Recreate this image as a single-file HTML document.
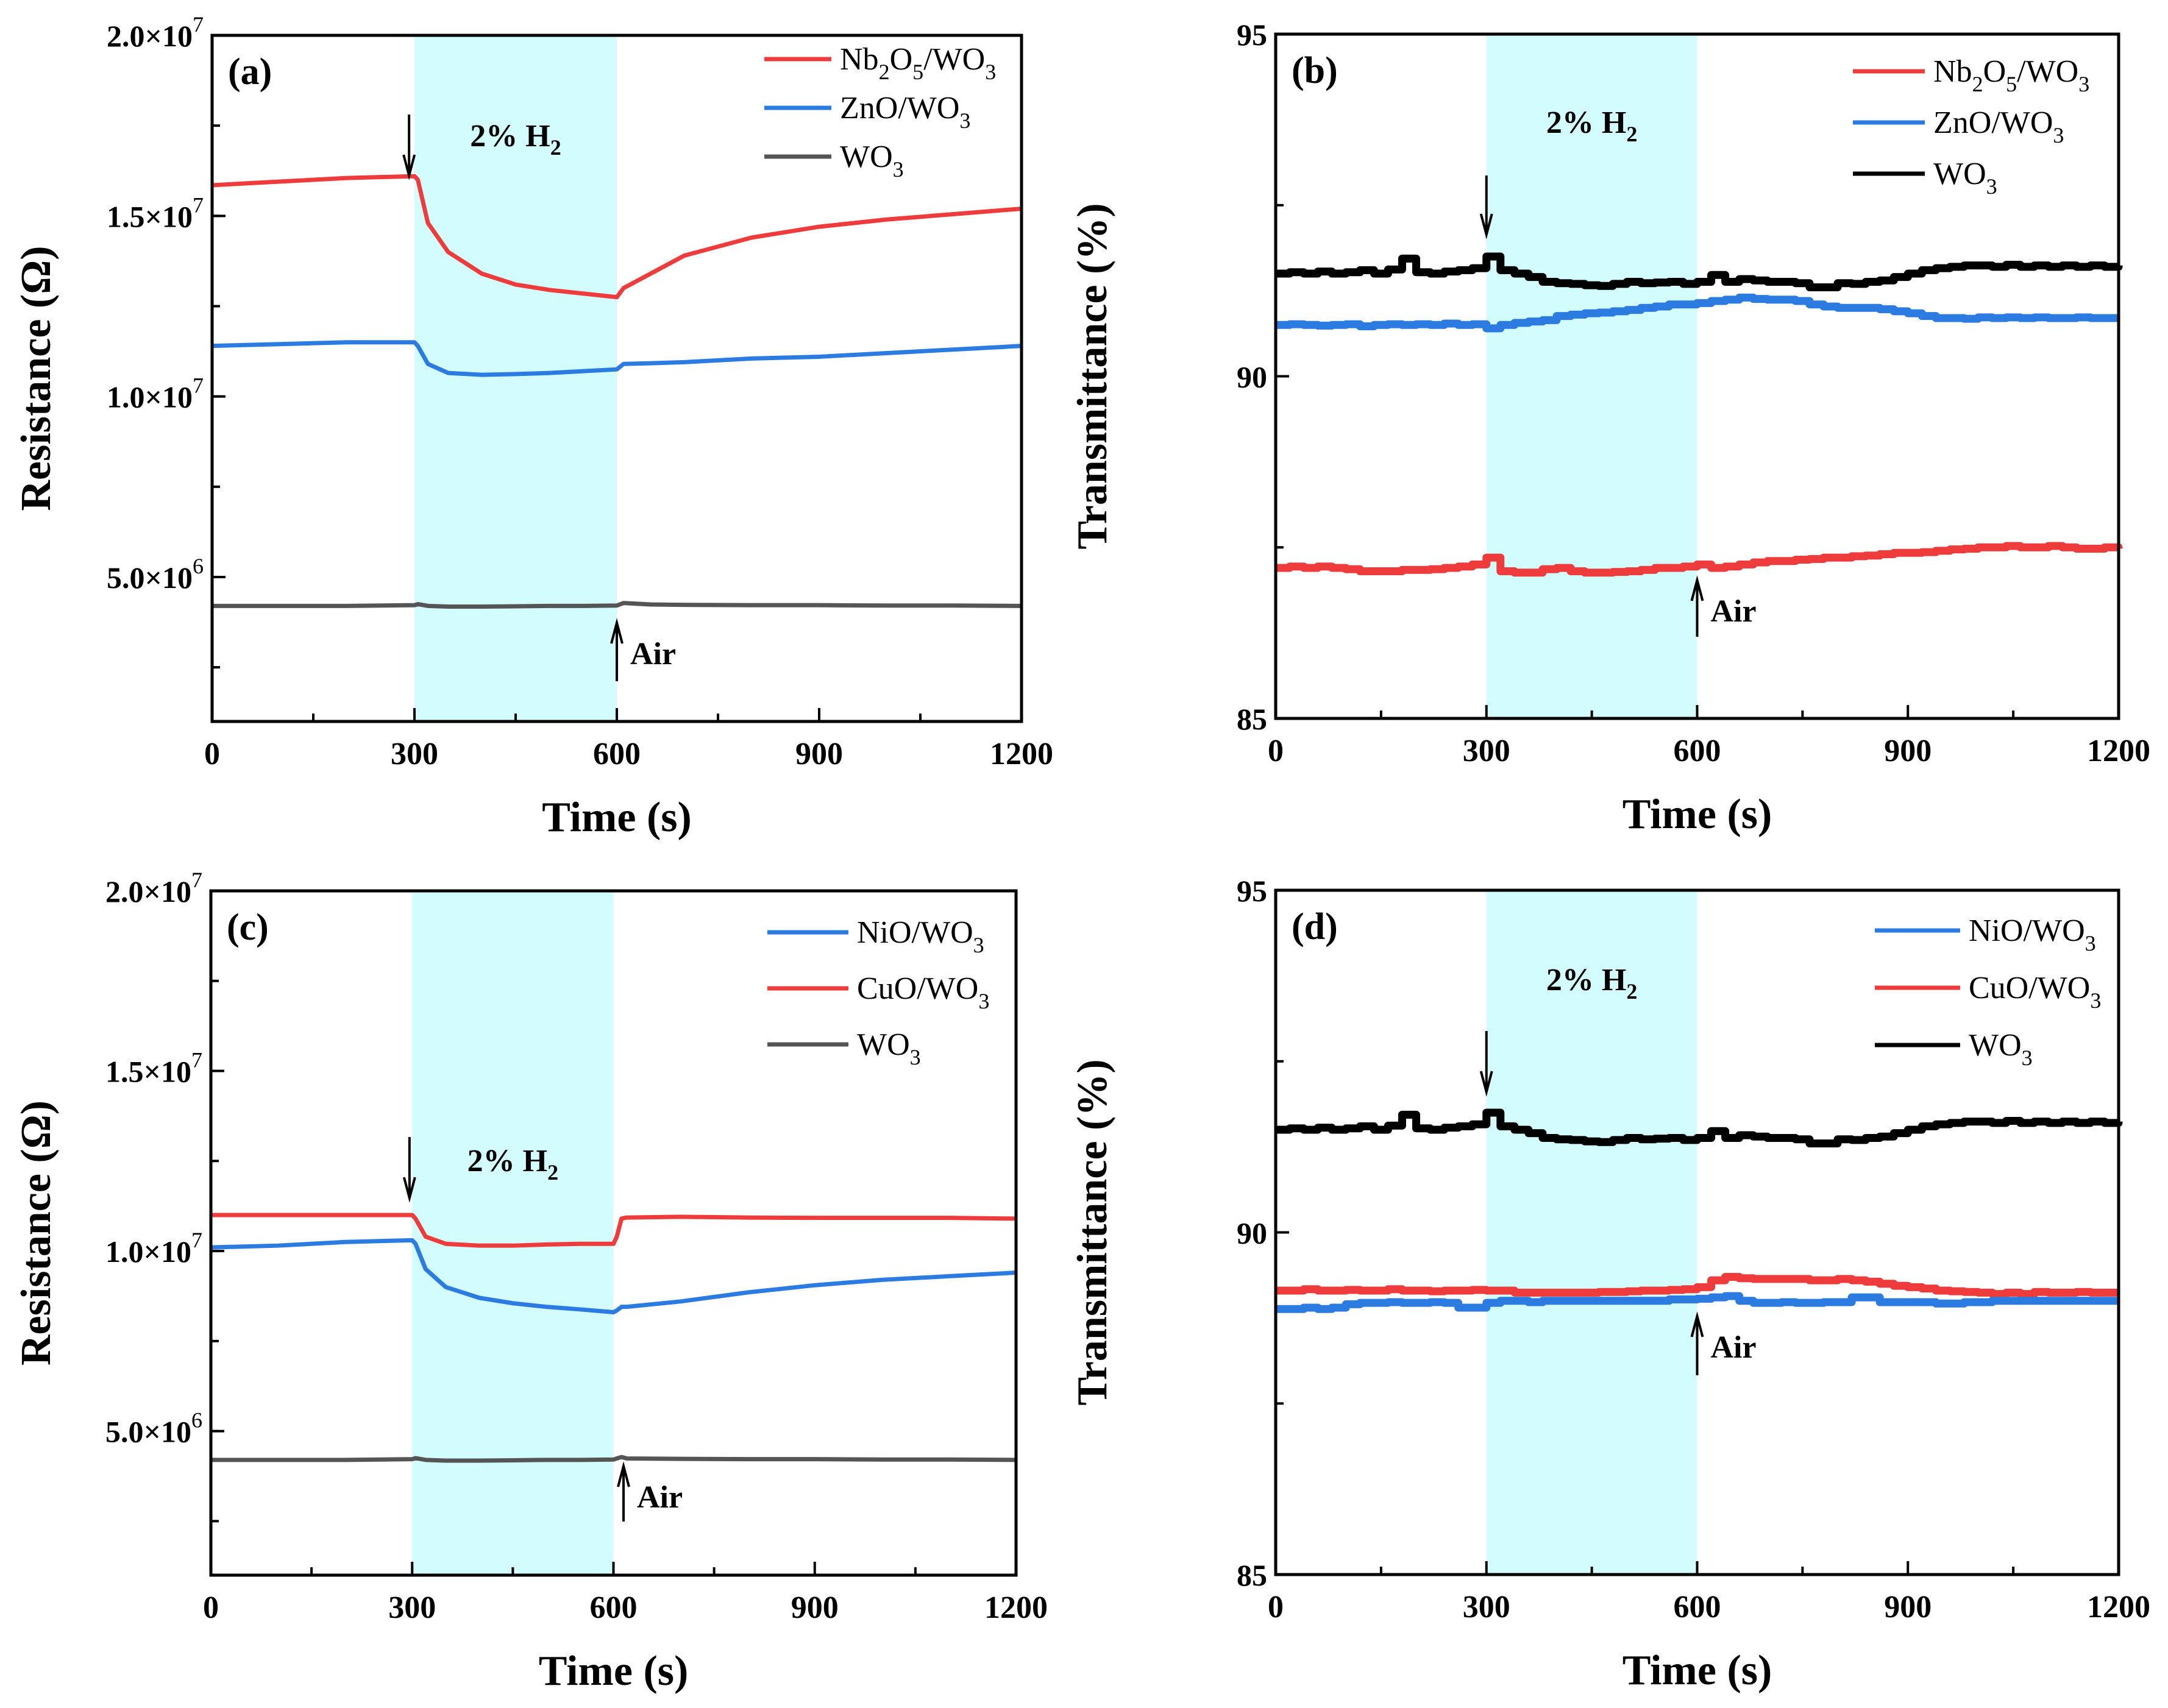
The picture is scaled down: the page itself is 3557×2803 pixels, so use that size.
<!DOCTYPE html>
<html><head><meta charset="utf-8"><style>
html,body{margin:0;padding:0;background:#fff;}
svg{display:block;font-family:"Liberation Serif",serif;}
</style></head>
<body>
<svg id="fig" width="3557" height="2803" viewBox="0 0 3557 2803" xmlns="http://www.w3.org/2000/svg"></svg>
<script>
// ---------- data ----------
const timeTicks = [0, 300, 600, 900, 1200];
const resTicks = [5e6, 1e7, 1.5e7, 2e7];
const resTickLabels = ["5.0×10|6", "1.0×10|7", "1.5×10|7", "2.0×10|7"];
const transTicks = [85, 90, 95];
const transTickLabels = ["85", "90", "95"];

const aTime = [0, 100, 200, 300, 305, 320, 350, 400, 450, 500, 550, 600, 610, 650, 700, 800, 900, 1000, 1100, 1200];
const aNb = [1.585e7, 1.595e7, 1.605e7, 1.61e7, 1.6e7, 1.48e7, 1.4e7, 1.34e7, 1.31e7, 1.295e7, 1.285e7, 1.275e7, 1.3e7, 1.34e7, 1.39e7, 1.44e7, 1.47e7, 1.49e7, 1.505e7, 1.52e7];
const aZn = [1.14e7, 1.145e7, 1.15e7, 1.15e7, 1.14e7, 1.09e7, 1.065e7, 1.06e7, 1.062e7, 1.065e7, 1.07e7, 1.075e7, 1.09e7, 1.092e7, 1.095e7, 1.105e7, 1.11e7, 1.12e7, 1.13e7, 1.14e7];
const aWO = [4.2e6, 4.2e6, 4.2e6, 4.22e6, 4.25e6, 4.2e6, 4.18e6, 4.18e6, 4.19e6, 4.2e6, 4.2e6, 4.21e6, 4.28e6, 4.24e6, 4.23e6, 4.22e6, 4.22e6, 4.21e6, 4.21e6, 4.2e6];

const cTime = [0, 100, 200, 300, 305, 320, 350, 400, 450, 500, 550, 600, 605, 612, 620, 700, 800, 900, 1000, 1100, 1200];
const cNi = [1.01e7, 1.015e7, 1.025e7, 1.03e7, 1.02e7, 0.95e7, 0.9e7, 0.87e7, 0.855e7, 0.845e7, 0.838e7, 0.83e7, 0.835e7, 0.845e7, 0.845e7, 0.86e7, 0.885e7, 0.905e7, 0.92e7, 0.93e7, 0.94e7];
const cCu = [1.1e7, 1.1e7, 1.1e7, 1.1e7, 1.09e7, 1.04e7, 1.02e7, 1.015e7, 1.015e7, 1.018e7, 1.02e7, 1.02e7, 1.04e7, 1.09e7, 1.093e7, 1.095e7, 1.093e7, 1.092e7, 1.092e7, 1.092e7, 1.09e7];
const cWO = [4.2e6, 4.2e6, 4.2e6, 4.22e6, 4.25e6, 4.2e6, 4.18e6, 4.18e6, 4.19e6, 4.2e6, 4.2e6, 4.21e6, 4.24e6, 4.28e6, 4.24e6, 4.23e6, 4.22e6, 4.22e6, 4.21e6, 4.21e6, 4.2e6];

const tTime = [0,20,40,60,80,100,120,140,160,180,200,220,240,260,280,300,320,340,360,380,400,420,440,460,480,500,520,540,560,580,600,620,640,660,680,700,720,740,760,780,800,820,840,860,880,900,920,940,960,980,1000,1020,1040,1060,1080,1100,1120,1140,1160,1180,1200];
const tWO = [91.5,91.52,91.5,91.53,91.5,91.52,91.55,91.5,91.56,91.72,91.52,91.5,91.53,91.55,91.58,91.75,91.55,91.5,91.45,91.38,91.36,91.35,91.33,91.32,91.35,91.38,91.36,91.37,91.38,91.35,91.38,91.48,91.38,91.42,91.4,91.38,91.38,91.36,91.3,91.3,91.36,91.35,91.38,91.4,91.45,91.5,91.55,91.58,91.6,91.62,91.62,91.6,91.63,91.6,91.62,91.6,91.62,91.6,91.62,91.6,91.62];
const bZn = [90.75,90.76,90.75,90.74,90.75,90.76,90.73,90.75,90.76,90.75,90.76,90.75,90.77,90.75,90.76,90.7,90.75,90.78,90.8,90.82,90.88,90.9,90.92,90.93,90.95,90.97,91.0,91.02,91.05,91.05,91.07,91.1,91.12,91.15,91.13,91.12,91.12,91.1,91.05,91.02,91.0,91.0,91.0,90.98,90.95,90.92,90.88,90.85,90.85,90.84,90.86,90.85,90.86,90.85,90.86,90.85,90.85,90.86,90.85,90.85,90.85];
const bNb = [87.2,87.22,87.2,87.22,87.2,87.18,87.15,87.15,87.15,87.17,87.17,87.18,87.2,87.22,87.25,87.35,87.15,87.13,87.13,87.18,87.2,87.15,87.13,87.13,87.14,87.15,87.17,87.2,87.2,87.22,87.25,87.2,87.22,87.25,87.28,87.3,87.3,87.32,87.33,87.35,87.35,87.37,87.38,87.4,87.42,87.42,87.43,87.45,87.47,87.48,87.5,87.5,87.52,87.5,87.5,87.52,87.5,87.48,87.48,87.5,87.48];
const dCu = [89.15,89.15,89.17,89.15,89.15,89.16,89.15,89.15,89.17,89.15,89.15,89.14,89.15,89.15,89.16,89.15,89.15,89.12,89.12,89.12,89.12,89.12,89.12,89.13,89.13,89.14,89.15,89.15,89.16,89.17,89.2,89.3,89.35,89.33,89.32,89.32,89.32,89.32,89.3,89.3,89.32,89.3,89.28,89.25,89.22,89.2,89.18,89.15,89.14,89.13,89.12,89.1,89.12,89.1,89.13,89.12,89.12,89.13,89.12,89.12,89.12];
const dNi = [88.88,88.88,88.9,88.88,88.9,88.95,88.97,88.97,88.98,88.97,88.97,88.98,88.97,88.9,88.9,88.97,89.0,89.0,88.98,89.0,89.0,89.0,89.0,89.0,89.0,89.0,89.0,89.0,89.02,89.02,89.03,89.05,89.07,89.0,88.97,88.97,88.98,88.97,88.97,88.98,88.98,89.05,89.05,88.98,88.98,88.98,88.98,88.96,88.96,88.98,88.98,89.0,89.0,89.0,89.0,89.0,89.0,89.0,89.0,89.0,89.0];

// ---------- drawing ----------
const NS = "http://www.w3.org/2000/svg";
const svg = document.getElementById("fig");
function mk(tag, attrs, parent) {
  const e = document.createElementNS(NS, tag);
  for (const k in attrs) e.setAttribute(k, attrs[k]);
  (parent || svg).appendChild(e);
  return e;
}
const RED = "#ee3b3b", BLUE = "#2b7be0", GREY = "#555", BLACK = "#000";

function panel(p) {
  const g = mk("g", {});
  
  
  const xs = t => p.x0 + (t - 0) / 1200 * (p.x1 - p.x0);
  const ys = v => p.y1 - (v - p.ymin) / (p.ymax - p.ymin) * (p.y1 - p.y0);
  const band = mk("rect", {x: xs(300), y: p.y0, width: xs(600) - xs(300), height: p.y1 - p.y0, fill: "#d2fcfd"}, g);
  
  
  p.series.forEach(s => {
    let d = "";
    s.t.forEach((t, i) => {
      const X = xs(t), Y = ys(s.v[i]);
      if (i === 0) d += "M" + X + " " + Y;
      else if (s.step) d += " H" + X + " V" + Y;
      else d += " L" + X + " " + Y;
    });
    const path = mk("path", {d: d, fill: "none", stroke: s.color, "stroke-width": s.step ? 13 : 7, "stroke-linejoin": "round"}, g);
    
    
  });
  const fr = mk("rect", {x: p.x0, y: p.y0, width: p.x1 - p.x0, height: p.y1 - p.y0, fill: "none", stroke: "#000", "stroke-width": 5}, g);
  
  
  for (let t = 0; t <= 1200; t += 150) {
    const maj = t % 300 === 0;
    const tk = mk("line", {x1: xs(t), x2: xs(t), y1: p.y1, y2: p.y1 - (maj ? 22 : 13), stroke: "#000", "stroke-width": 4}, g);
    
    
  }
  timeTicks.forEach(t => {
    const tx = mk("text", {x: xs(t), y: p.y1 + 70, "font-size": 52, "font-weight": "bold", "text-anchor": "middle"}, g);
    tx.textContent = t;
    
    
  });
  const step = (p.ticks[1] - p.ticks[0]) / 2;
  const minorVals = [];
  for (let k = -4; k <= 10; k++) {
    const v = p.ticks[0] + k * step;
    if (v > p.ymin + 1e-9 * Math.abs(p.ymax) && v < p.ymax - 1e-9 * Math.abs(p.ymax)) minorVals.push(v);
  }
  minorVals.forEach(v => {
    const tk = mk("line", {x1: p.x0, x2: p.x0 + 13, y1: ys(v), y2: ys(v), stroke: "#000", "stroke-width": 4}, g);
    
    
  });
  p.ticks.forEach((v, i) => {
    const tk = mk("line", {x1: p.x0, x2: p.x0 + 22, y1: ys(v), y2: ys(v), stroke: "#000", "stroke-width": 4}, g);
    
    
    const parts = p.labels[i].split("|");
    const tx = mk("text", {x: p.x0 - 14, y: ys(v) + 18, "font-size": 50, "font-weight": "bold", "text-anchor": "end"}, g);
    
    
    if (parts.length > 1) {
      const a = mk("tspan", {}, tx); a.textContent = parts[0];
      const b = mk("tspan", {dy: -24, "font-size": 36, "font-weight": "normal"}, tx); b.textContent = parts[1];
    } else tx.textContent = parts[0];
  });
  const xt = mk("text", {x: (p.x0 + p.x1) / 2, y: p.y1 + 180, "font-size": 70, "font-weight": "bold", "text-anchor": "middle"}, g);
  xt.textContent = "Time (s)";
  
  
  const yt = mk("text", {x: 0, y: 0, "font-size": 70, "font-weight": "bold", "text-anchor": "middle", transform: "translate(" + p.ytx + "," + (p.y0 + p.y1) / 2 + ") rotate(-90)"}, g);
  yt.textContent = p.ytitle;
  
  
  const pl = mk("text", {x: p.x0 + 26, y: p.y0 + 80, "font-size": 62, "font-weight": "bold"}, g);
  pl.textContent = "(" + p.id + ")";
  
  
  const h = mk("text", {x: xs(450), y: p.h2y, "font-size": 52, "font-weight": "bold", "text-anchor": "middle"}, g);
  
  
  const h1 = mk("tspan", {}, h); h1.textContent = "2% H";
  const h2 = mk("tspan", {dy: 14, "font-size": 36}, h); h2.textContent = "2";
  function arrow(x, ya, yb, name) {
    const ln = mk("line", {x1: x, x2: x, y1: ya, y2: yb, stroke: "#000", "stroke-width": 4}, g);
    
    
    const dir = yb > ya ? 1 : -1;
    const hd = mk("path", {d: "M" + (x - 9) + " " + (yb - dir * 34) + " L" + x + " " + yb + " L" + (x + 9) + " " + (yb - dir * 34), fill: "none", stroke: "#000", "stroke-width": 4}, g);
    
    
  }
  arrow(xs(p.downX), p.down[0], p.down[1], 'h2-on-arrow');
  arrow(xs(p.airX), p.air[1], p.air[0], 'air-arrow');
  const at = mk("text", {x: xs(p.airX) + 22, y: p.air[0] + 68, "font-size": 52, "font-weight": "bold"}, g);
  at.textContent = "Air";
  
  
  p.series.slice().sort((a, b) => a.li - b.li).forEach((s, i) => {
    const y = p.leg.y + i * p.leg.dy;
    const ll = mk("line", {x1: p.leg.x0, x2: p.leg.x1, y1: y, y2: y, stroke: s.color, "stroke-width": 7}, g);
    
    
    const tx = mk("text", {x: p.leg.x1 + 14, y: y + 17, "font-size": 52}, g);
    
    
    let lowered = false;
    s.label.forEach(seg => {
      let dy = 0;
      if (seg[1] && !lowered) { dy = 16; lowered = true; }
      else if (!seg[1] && lowered) { dy = -16; lowered = false; }
      const sp = mk("tspan", {"font-size": seg[1] ? 36 : 52, dy: dy}, tx);
      sp.textContent = seg[0];
    });
  });
}

const lab = {
  nb: [["Nb"],["2",1],["O"],["5",1],["/WO"],["3",1]],
  zn: [["ZnO/WO"],["3",1]],
  wo: [["WO"],["3",1]],
  ni: [["NiO/WO"],["3",1]],
  cu: [["CuO/WO"],["3",1]]
};

panel({id: "a", x0: 348, x1: 1676, y0: 58, y1: 1184, ymin: 1e6, ymax: 2e7, ticks: resTicks, labels: resTickLabels,
  ytitle: "Resistance (Ω)", ytx: 82, h2y: 240, downX: 292, down: [188, 288], airX: 600, air: [1022, 1118],
  leg: {x0: 1254, x1: 1364, y: 97, dy: 80},
  series: [
    {name: "wo3", t: aTime, v: aWO, color: GREY, label: lab.wo, li: 2},
    {name: "zno-wo3", t: aTime, v: aZn, color: BLUE, label: lab.zn, li: 1},
    {name: "nb2o5-wo3", t: aTime, v: aNb, color: RED, label: lab.nb, li: 0}
  ]});
panel({id: "b", x0: 2093, x1: 3476, y0: 56, y1: 1179, ymin: 85, ymax: 95, ticks: transTicks, labels: transTickLabels,
  ytitle: "Transmittance (%)", ytx: 1815, h2y: 218, downX: 300, down: [288, 385], airX: 600, air: [952, 1045],
  leg: {x0: 3040, x1: 3158, y: 117, dy: 84},
  series: [
    {name: "nb2o5-wo3", t: tTime, v: bNb, color: RED, label: lab.nb, li: 0, step: 1},
    {name: "zno-wo3", t: tTime, v: bZn, color: BLUE, label: lab.zn, li: 1, step: 1},
    {name: "wo3", t: tTime, v: tWO, color: BLACK, label: lab.wo, li: 2, step: 1}
  ]});
panel({id: "c", x0: 346, x1: 1667, y0: 1462, y1: 2585, ymin: 1e6, ymax: 2e7, ticks: resTicks, labels: resTickLabels,
  ytitle: "Resistance (Ω)", ytx: 82, h2y: 1922, downX: 296, down: [1866, 1966], airX: 615, air: [2406, 2497],
  leg: {x0: 1259, x1: 1392, y: 1530, dy: 92},
  series: [
    {name: "wo3", t: cTime, v: cWO, color: GREY, label: lab.wo, li: 2},
    {name: "cuo-wo3", t: cTime, v: cCu, color: RED, label: lab.cu, li: 1},
    {name: "nio-wo3", t: cTime, v: cNi, color: BLUE, label: lab.ni, li: 0}
  ]});
panel({id: "d", x0: 2093, x1: 3476, y0: 1461, y1: 2584, ymin: 85, ymax: 95, ticks: transTicks, labels: transTickLabels,
  ytitle: "Transmittance (%)", ytx: 1815, h2y: 1625, downX: 300, down: [1692, 1792], airX: 600, air: [2160, 2257],
  leg: {x0: 3076, x1: 3216, y: 1527, dy: 94},
  series: [
    {name: "cuo-wo3", t: tTime, v: dCu, color: RED, label: lab.cu, li: 1, step: 1},
    {name: "nio-wo3", t: tTime, v: dNi, color: BLUE, label: lab.ni, li: 0, step: 1},
    {name: "wo3", t: tTime, v: tWO, color: BLACK, label: lab.wo, li: 2, step: 1}
  ]});
</script>
</body></html>
